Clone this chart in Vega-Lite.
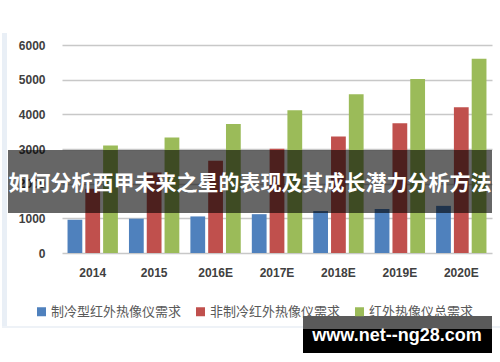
{
  "$schema": "https://vega.github.io/schema/vega-lite/v6.json",
  "width": 430,
  "height": 208,
  "autosize": {"type": "none"},
  "padding": {"left": 62, "top": 45, "right": 8, "bottom": 109},
  "background": "white",
  "config": {"view": {"stroke": null}, "font": "Liberation Sans"},
  "layer": [
    {
      "data": {"values": [{}]},
      "mark": {"type": "rect", "color": "#e9eff6"},
      "encoding": {"x": {"value": -60}, "x2": {"value": -55}, "y": {"value": -12}, "y2": {"value": 283}}
    },
    {
      "data": {"values": [{}]},
      "mark": {"type": "rect", "color": "#eef2f7"},
      "encoding": {"x": {"value": -60}, "x2": {"value": 440}, "y": {"value": 281}, "y2": {"value": 283}}
    },
    {
      "data": {
        "values": [
          {"year": "2014", "series": "制冷型红外热像仪需求", "value": 960},
          {"year": "2014", "series": "非制冷红外热像仪需求", "value": 1850},
          {"year": "2014", "series": "红外热像仪总需求", "value": 3100},
          {"year": "2015", "series": "制冷型红外热像仪需求", "value": 990},
          {"year": "2015", "series": "非制冷红外热像仪需求", "value": 2320},
          {"year": "2015", "series": "红外热像仪总需求", "value": 3330},
          {"year": "2016E", "series": "制冷型红外热像仪需求", "value": 1055},
          {"year": "2016E", "series": "非制冷红外热像仪需求", "value": 2660},
          {"year": "2016E", "series": "红外热像仪总需求", "value": 3720},
          {"year": "2017E", "series": "制冷型红外热像仪需求", "value": 1120},
          {"year": "2017E", "series": "非制冷红外热像仪需求", "value": 3005},
          {"year": "2017E", "series": "红外热像仪总需求", "value": 4120},
          {"year": "2018E", "series": "制冷型红外热像仪需求", "value": 1210},
          {"year": "2018E", "series": "非制冷红外热像仪需求", "value": 3360},
          {"year": "2018E", "series": "红外热像仪总需求", "value": 4580},
          {"year": "2019E", "series": "制冷型红外热像仪需求", "value": 1270},
          {"year": "2019E", "series": "非制冷红外热像仪需求", "value": 3745},
          {"year": "2019E", "series": "红外热像仪总需求", "value": 5020},
          {"year": "2020E", "series": "制冷型红外热像仪需求", "value": 1360},
          {"year": "2020E", "series": "非制冷红外热像仪需求", "value": 4205},
          {"year": "2020E", "series": "红外热像仪总需求", "value": 5600}
        ]
      },
      "mark": {"type": "bar"},
      "encoding": {
        "x": {
          "field": "year", "type": "nominal", "sort": null,
          "scale": {"paddingInner": 0.18, "paddingOuter": 0.09},
          "axis": {"title": null, "labelAngle": 0, "domain": false, "ticks": false, "labelFont": "Liberation Sans", "labelFontSize": 12, "labelFontWeight": "bold", "labelColor": "#404040", "labelPadding": 14}
        },
        "xOffset": {
          "field": "series", "type": "nominal",
          "scale": {"domain": ["制冷型红外热像仪需求", "非制冷红外热像仪需求", "红外热像仪总需求"], "paddingInner": 0.17, "paddingOuter": 0}
        },
        "y": {
          "field": "value", "type": "quantitative",
          "scale": {"domain": [0, 6000], "nice": false},
          "axis": {"title": null, "values": [0, 1000, 2000, 3000, 4000, 5000, 6000], "format": "d", "domain": false, "ticks": false, "gridColor": "#c8c8c8", "gridWidth": 1.5, "labelPadding": 17, "labelFont": "Liberation Sans", "labelFontSize": 12, "labelFontWeight": "bold", "labelColor": "#404040"}
        },
        "color": {
          "field": "series", "type": "nominal",
          "scale": {"domain": ["制冷型红外热像仪需求", "非制冷红外热像仪需求", "红外热像仪总需求"], "range": ["#4F81BD", "#C0504D", "#9BBB59"]},
          "legend": {"title": null, "orient": "none", "legendX": -27, "legendY": 260, "direction": "horizontal", "padding": 0, "symbolType": "square", "symbolSize": 81, "symbolStrokeWidth": 0, "labelFont": "Noto Sans CJK SC", "labelFontSize": 13, "labelColor": "#595959", "columnPadding": 12, "labelOffset": 3}
        }
      }
    },
    {
      "data": {"values": [{}]},
      "mark": {"type": "rect", "color": "black", "opacity": 0.6},
      "encoding": {"x": {"value": -54}, "x2": {"value": 430}, "y": {"value": 105}, "y2": {"value": 168}}
    },
    {
      "data": {"values": [{}]},
      "mark": {"type": "text", "color": "white", "font": "Noto Sans CJK SC", "fontSize": 21, "fontWeight": "bold", "align": "center", "baseline": "middle"},
      "encoding": {"x": {"value": 188}, "y": {"value": 139}, "text": {"value": "如何分析西甲未来之星的表现及其成长潜力分析方法"}}
    },
    {
      "data": {"values": [{}]},
      "mark": {"type": "rect", "color": "#5a5a5a"},
      "encoding": {"x": {"value": 241}, "x2": {"value": 430}, "y": {"value": 271}, "y2": {"value": 284}}
    },
    {
      "data": {"values": [{}]},
      "mark": {"type": "rect", "color": "black"},
      "encoding": {"x": {"value": 241}, "x2": {"value": 430}, "y": {"value": 284}, "y2": {"value": 308}}
    },
    {
      "data": {"values": [{}]},
      "mark": {"type": "text", "color": "white", "font": "Liberation Sans", "fontSize": 18, "fontWeight": "bold", "align": "center", "baseline": "middle"},
      "encoding": {"x": {"value": 335}, "y": {"value": 291}, "text": {"value": "www.net--ng28.com"}}
    }
  ]
}
